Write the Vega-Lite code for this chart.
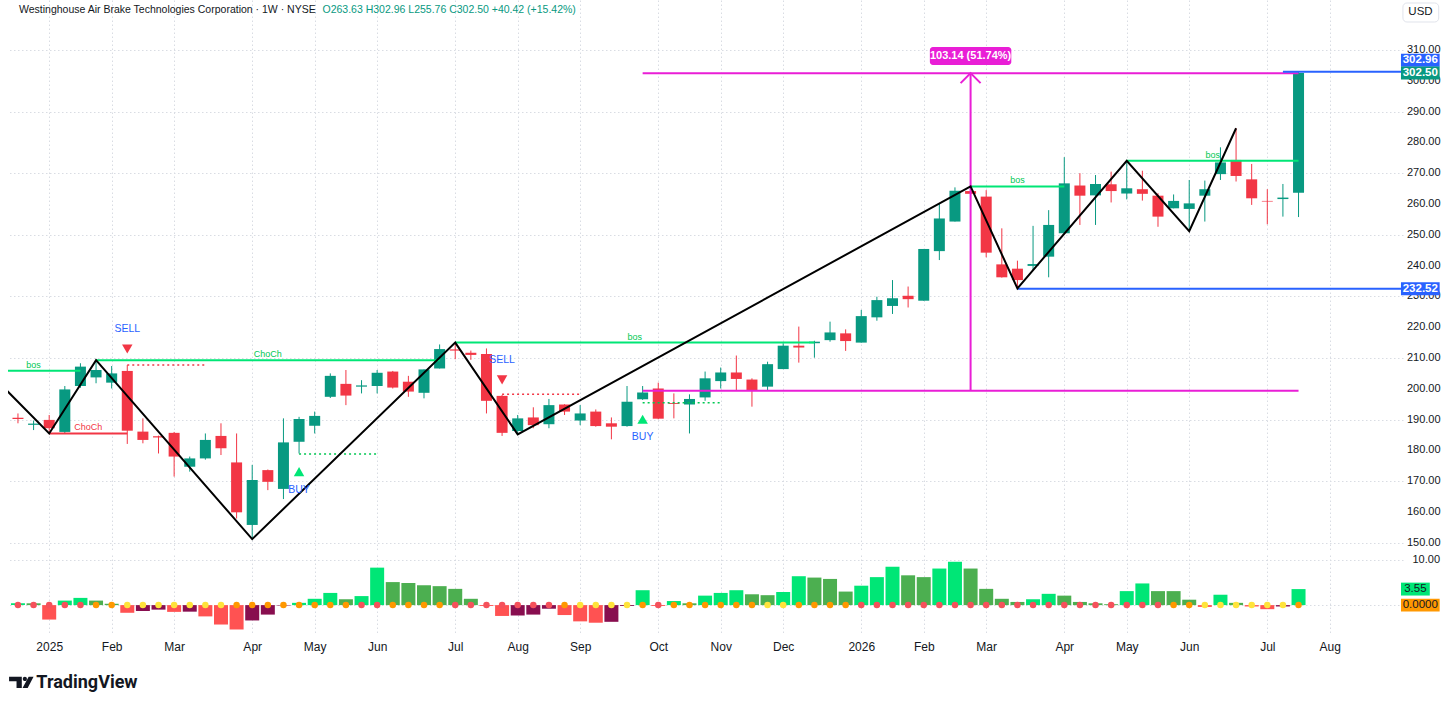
{
"$schema":"https://vega.github.io/schema/vega-lite/v6.json",
"padding":{"left":8,"top":0,"right":0,"bottom":0},
"spacing":2,
"config":{"view":{"stroke":null},"font":"Liberation Sans, sans-serif",
"axis":{"gridColor":"#d9dce3","gridDash":[1.5,2.5],"gridWidth":1,"labelColor":"#131722","labelFontSize":11,"domain":false,"ticks":false,"title":null,"labelOverlap":false}},
"datasets":{
"candles":[
{"d":"2024-12-23","o":190.6,"h":192.0,"l":188.8,"c":190.2},
{"d":"2024-12-30","o":188.3,"h":189.7,"l":186.6,"c":188.7},
{"d":"2025-01-06","o":189.9,"h":191.5,"l":185.5,"c":187.2},
{"d":"2025-01-13","o":186.0,"h":200.9,"l":185.6,"c":199.8},
{"d":"2025-01-20","o":200.9,"h":208.3,"l":200.3,"c":207.2},
{"d":"2025-01-27","o":203.7,"h":209.3,"l":201.8,"c":206.1},
{"d":"2025-02-03","o":202.0,"h":207.4,"l":200.1,"c":205.0},
{"d":"2025-02-10","o":205.8,"h":207.7,"l":182.1,"c":186.4},
{"d":"2025-02-17","o":186.1,"h":190.4,"l":182.3,"c":183.4},
{"d":"2025-02-24","o":184.6,"h":184.8,"l":179.0,"c":184.2},
{"d":"2025-03-03","o":185.7,"h":186.0,"l":171.5,"c":178.0},
{"d":"2025-03-10","o":174.7,"h":178.0,"l":173.1,"c":177.4},
{"d":"2025-03-17","o":177.4,"h":185.5,"l":177.0,"c":183.4},
{"d":"2025-03-24","o":184.7,"h":188.8,"l":178.5,"c":180.7},
{"d":"2025-03-31","o":176.1,"h":185.5,"l":157.9,"c":159.9},
{"d":"2025-04-07","o":155.8,"h":175.3,"l":151.2,"c":170.4},
{"d":"2025-04-14","o":173.6,"h":173.8,"l":167.1,"c":169.8},
{"d":"2025-04-21","o":167.5,"h":190.4,"l":164.2,"c":182.6},
{"d":"2025-04-28","o":182.8,"h":190.9,"l":179.0,"c":190.2},
{"d":"2025-05-05","o":188.0,"h":192.6,"l":185.5,"c":191.2},
{"d":"2025-05-12","o":197.4,"h":205.0,"l":197.0,"c":204.2},
{"d":"2025-05-19","o":201.6,"h":206.1,"l":194.7,"c":197.8},
{"d":"2025-05-26","o":200.7,"h":202.8,"l":198.5,"c":201.1},
{"d":"2025-06-02","o":200.9,"h":206.1,"l":198.5,"c":205.2},
{"d":"2025-06-09","o":205.6,"h":205.8,"l":200.1,"c":200.4},
{"d":"2025-06-16","o":202.3,"h":204.2,"l":197.4,"c":199.1},
{"d":"2025-06-23","o":198.7,"h":206.3,"l":196.9,"c":206.3},
{"d":"2025-06-30","o":206.6,"h":214.4,"l":206.6,"c":212.9},
{"d":"2025-07-07","o":212.8,"h":215.0,"l":209.6,"c":212.4},
{"d":"2025-07-14","o":211.7,"h":212.4,"l":209.4,"c":211.0},
{"d":"2025-07-21","o":211.3,"h":213.1,"l":192.0,"c":196.1},
{"d":"2025-07-28","o":197.7,"h":198.0,"l":184.7,"c":185.7},
{"d":"2025-08-04","o":186.3,"h":191.5,"l":185.2,"c":190.4},
{"d":"2025-08-11","o":190.7,"h":194.0,"l":187.2,"c":188.2},
{"d":"2025-08-18","o":188.5,"h":196.7,"l":187.2,"c":194.7},
{"d":"2025-08-25","o":194.9,"h":195.0,"l":191.5,"c":192.6},
{"d":"2025-09-01","o":189.7,"h":194.7,"l":188.2,"c":192.0},
{"d":"2025-09-08","o":192.6,"h":193.3,"l":187.7,"c":187.9},
{"d":"2025-09-15","o":188.8,"h":190.7,"l":183.6,"c":187.7},
{"d":"2025-09-22","o":187.9,"h":200.9,"l":187.7,"c":195.8},
{"d":"2025-09-29","o":196.6,"h":200.9,"l":196.4,"c":198.8},
{"d":"2025-10-06","o":200.1,"h":202.0,"l":190.1,"c":190.3},
{"d":"2025-10-13","o":195.4,"h":198.5,"l":190.4,"c":195.1},
{"d":"2025-10-20","o":194.9,"h":198.2,"l":185.5,"c":196.7},
{"d":"2025-10-27","o":197.2,"h":205.6,"l":196.1,"c":203.4},
{"d":"2025-11-03","o":202.5,"h":206.9,"l":200.1,"c":205.3},
{"d":"2025-11-10","o":205.3,"h":210.8,"l":199.4,"c":203.2},
{"d":"2025-11-17","o":203.0,"h":203.4,"l":194.2,"c":199.4},
{"d":"2025-11-24","o":200.7,"h":208.8,"l":199.4,"c":208.0},
{"d":"2025-12-01","o":206.4,"h":214.8,"l":206.4,"c":214.0},
{"d":"2025-12-08","o":214.0,"h":220.2,"l":208.5,"c":213.4},
{"d":"2025-12-15","o":214.8,"h":215.6,"l":210.1,"c":215.3},
{"d":"2025-12-22","o":215.8,"h":221.8,"l":215.3,"c":218.3},
{"d":"2025-12-29","o":218.0,"h":219.3,"l":212.3,"c":215.5},
{"d":"2026-01-05","o":215.0,"h":225.6,"l":215.0,"c":223.6},
{"d":"2026-01-12","o":223.2,"h":229.9,"l":222.1,"c":228.8},
{"d":"2026-01-19","o":226.9,"h":235.3,"l":224.3,"c":229.4},
{"d":"2026-01-26","o":230.2,"h":233.2,"l":226.4,"c":229.1},
{"d":"2026-02-02","o":228.6,"h":245.4,"l":228.6,"c":245.4},
{"d":"2026-02-09","o":244.7,"h":260.2,"l":241.8,"c":255.3},
{"d":"2026-02-16","o":254.3,"h":265.4,"l":254.3,"c":264.3},
{"d":"2026-02-23","o":264.2,"h":265.7,"l":259.1,"c":263.3},
{"d":"2026-03-02","o":262.4,"h":264.5,"l":242.7,"c":244.2},
{"d":"2026-03-09","o":240.4,"h":252.1,"l":236.1,"c":236.2},
{"d":"2026-03-16","o":239.0,"h":241.6,"l":232.6,"c":235.3},
{"d":"2026-03-23","o":239.9,"h":252.9,"l":238.6,"c":240.5},
{"d":"2026-03-30","o":242.9,"h":258.0,"l":236.2,"c":253.2},
{"d":"2026-04-06","o":250.5,"h":275.2,"l":250.5,"c":266.7},
{"d":"2026-04-13","o":266.0,"h":270.0,"l":253.2,"c":262.7},
{"d":"2026-04-20","o":262.8,"h":269.4,"l":253.2,"c":266.5},
{"d":"2026-04-27","o":266.4,"h":270.5,"l":260.5,"c":264.2},
{"d":"2026-05-04","o":263.4,"h":274.1,"l":261.5,"c":265.1},
{"d":"2026-05-11","o":264.8,"h":270.8,"l":261.1,"c":263.3},
{"d":"2026-05-18","o":262.7,"h":263.5,"l":252.6,"c":255.9},
{"d":"2026-05-25","o":258.6,"h":263.1,"l":258.6,"c":261.0},
{"d":"2026-06-01","o":258.4,"h":267.8,"l":251.2,"c":260.2},
{"d":"2026-06-08","o":262.7,"h":267.6,"l":254.3,"c":264.8},
{"d":"2026-06-15","o":269.7,"h":278.4,"l":267.8,"c":273.5},
{"d":"2026-06-22","o":274.3,"h":284.6,"l":267.3,"c":269.1},
{"d":"2026-06-29","o":268.0,"h":273.0,"l":259.7,"c":261.85},
{"d":"2026-07-06","o":261.0,"h":264.8,"l":253.4,"c":260.8},
{"d":"2026-07-13","o":261.6,"h":266.5,"l":255.9,"c":262.08},
{"d":"2026-07-20","o":263.63,"h":302.96,"l":255.76,"c":302.5}
],
"osc":[
{"d":"2024-12-23","v":0.4,"phase":"up_rising","sqz":"high"},
{"d":"2024-12-30","v":0.4,"phase":"up_falling","sqz":"high"},
{"d":"2025-01-06","v":-3.2,"phase":"down_falling","sqz":"high"},
{"d":"2025-01-13","v":1.0,"phase":"up_rising","sqz":"high"},
{"d":"2025-01-20","v":1.6,"phase":"up_rising","sqz":"high"},
{"d":"2025-01-27","v":1.0,"phase":"up_falling","sqz":"mid"},
{"d":"2025-02-03","v":0.3,"phase":"up_falling","sqz":"mid"},
{"d":"2025-02-10","v":-1.7,"phase":"down_falling","sqz":"low"},
{"d":"2025-02-17","v":-1.3,"phase":"down_rising","sqz":"low"},
{"d":"2025-02-24","v":-1.0,"phase":"down_rising","sqz":"low"},
{"d":"2025-03-03","v":-1.5,"phase":"down_falling","sqz":"low"},
{"d":"2025-03-10","v":-1.45,"phase":"down_rising","sqz":"low"},
{"d":"2025-03-17","v":-2.5,"phase":"down_falling","sqz":"low"},
{"d":"2025-03-24","v":-4.3,"phase":"down_falling","sqz":"low"},
{"d":"2025-03-31","v":-5.4,"phase":"down_falling","sqz":"mid"},
{"d":"2025-04-07","v":-3.4,"phase":"down_rising","sqz":"mid"},
{"d":"2025-04-14","v":-2.1,"phase":"down_rising","sqz":"mid"},
{"d":"2025-04-21","v":-0.1,"phase":"down_rising","sqz":"mid"},
{"d":"2025-04-28","v":0.5,"phase":"up_rising","sqz":"mid"},
{"d":"2025-05-05","v":1.4,"phase":"up_rising","sqz":"mid"},
{"d":"2025-05-12","v":2.7,"phase":"up_rising","sqz":"mid"},
{"d":"2025-05-19","v":1.3,"phase":"up_falling","sqz":"mid"},
{"d":"2025-05-26","v":2.0,"phase":"up_rising","sqz":"high"},
{"d":"2025-06-02","v":8.3,"phase":"up_rising","sqz":"high"},
{"d":"2025-06-09","v":5.1,"phase":"up_falling","sqz":"mid"},
{"d":"2025-06-16","v":4.9,"phase":"up_falling","sqz":"mid"},
{"d":"2025-06-23","v":4.4,"phase":"up_falling","sqz":"mid"},
{"d":"2025-06-30","v":4.2,"phase":"up_falling","sqz":"mid"},
{"d":"2025-07-07","v":3.6,"phase":"up_falling","sqz":"high"},
{"d":"2025-07-14","v":1.4,"phase":"up_falling","sqz":"high"},
{"d":"2025-07-21","v":-0.2,"phase":"down_falling","sqz":"high"},
{"d":"2025-07-28","v":-2.4,"phase":"down_falling","sqz":"high"},
{"d":"2025-08-04","v":-2.3,"phase":"down_rising","sqz":"high"},
{"d":"2025-08-11","v":-2.1,"phase":"down_rising","sqz":"high"},
{"d":"2025-08-18","v":-0.8,"phase":"down_rising","sqz":"high"},
{"d":"2025-08-25","v":-2.2,"phase":"down_falling","sqz":"mid"},
{"d":"2025-09-01","v":-3.6,"phase":"down_falling","sqz":"low"},
{"d":"2025-09-08","v":-3.9,"phase":"down_falling","sqz":"low"},
{"d":"2025-09-15","v":-3.7,"phase":"down_rising","sqz":"low"},
{"d":"2025-09-22","v":-0.2,"phase":"down_rising","sqz":"low"},
{"d":"2025-09-29","v":3.3,"phase":"up_rising","sqz":"mid"},
{"d":"2025-10-06","v":-0.2,"phase":"down_falling","sqz":"high"},
{"d":"2025-10-13","v":0.9,"phase":"up_rising","sqz":"mid"},
{"d":"2025-10-20","v":0.4,"phase":"up_falling","sqz":"mid"},
{"d":"2025-10-27","v":2.1,"phase":"up_rising","sqz":"mid"},
{"d":"2025-11-03","v":2.7,"phase":"up_rising","sqz":"mid"},
{"d":"2025-11-10","v":3.3,"phase":"up_rising","sqz":"mid"},
{"d":"2025-11-17","v":2.4,"phase":"up_falling","sqz":"mid"},
{"d":"2025-11-24","v":2.2,"phase":"up_falling","sqz":"low"},
{"d":"2025-12-01","v":2.9,"phase":"up_rising","sqz":"low"},
{"d":"2025-12-08","v":6.4,"phase":"up_rising","sqz":"mid"},
{"d":"2025-12-15","v":6.1,"phase":"up_falling","sqz":"mid"},
{"d":"2025-12-22","v":5.8,"phase":"up_falling","sqz":"mid"},
{"d":"2025-12-29","v":3.0,"phase":"up_falling","sqz":"mid"},
{"d":"2026-01-05","v":4.3,"phase":"up_rising","sqz":"high"},
{"d":"2026-01-12","v":6.2,"phase":"up_rising","sqz":"high"},
{"d":"2026-01-19","v":8.5,"phase":"up_rising","sqz":"high"},
{"d":"2026-01-26","v":6.6,"phase":"up_falling","sqz":"high"},
{"d":"2026-02-02","v":6.2,"phase":"up_falling","sqz":"high"},
{"d":"2026-02-09","v":8.1,"phase":"up_rising","sqz":"high"},
{"d":"2026-02-16","v":9.6,"phase":"up_rising","sqz":"high"},
{"d":"2026-02-23","v":8.1,"phase":"up_falling","sqz":"high"},
{"d":"2026-03-02","v":3.6,"phase":"up_falling","sqz":"high"},
{"d":"2026-03-09","v":1.4,"phase":"up_falling","sqz":"high"},
{"d":"2026-03-16","v":0.7,"phase":"up_falling","sqz":"high"},
{"d":"2026-03-23","v":1.3,"phase":"up_rising","sqz":"high"},
{"d":"2026-03-30","v":2.5,"phase":"up_rising","sqz":"high"},
{"d":"2026-04-06","v":2.1,"phase":"up_falling","sqz":"high"},
{"d":"2026-04-13","v":0.7,"phase":"up_falling","sqz":"high"},
{"d":"2026-04-20","v":0.4,"phase":"up_falling","sqz":"high"},
{"d":"2026-04-27","v":0.2,"phase":"up_falling","sqz":"high"},
{"d":"2026-05-04","v":3.1,"phase":"up_rising","sqz":"high"},
{"d":"2026-05-11","v":4.8,"phase":"up_rising","sqz":"high"},
{"d":"2026-05-18","v":3.1,"phase":"up_falling","sqz":"high"},
{"d":"2026-05-25","v":3.1,"phase":"up_falling","sqz":"mid"},
{"d":"2026-06-01","v":1.2,"phase":"up_falling","sqz":"mid"},
{"d":"2026-06-08","v":-0.4,"phase":"down_falling","sqz":"low"},
{"d":"2026-06-15","v":2.3,"phase":"up_rising","sqz":"low"},
{"d":"2026-06-22","v":0.5,"phase":"up_falling","sqz":"low"},
{"d":"2026-06-29","v":-0.3,"phase":"down_falling","sqz":"low"},
{"d":"2026-07-06","v":-0.9,"phase":"down_falling","sqz":"low"},
{"d":"2026-07-13","v":-0.3,"phase":"down_rising","sqz":"low"},
{"d":"2026-07-20","v":3.55,"phase":"up_rising","sqz":"mid"}
],
"zigzag":[
{"d":"2024-12-16","p":200.9},{"d":"2025-01-06","p":185.5},{"d":"2025-01-27","p":209.3},{"d":"2025-04-07","p":151.2},
{"d":"2025-07-07","p":215.0},{"d":"2025-08-04","p":185.2},{"d":"2026-02-23","p":265.7},{"d":"2026-03-16","p":232.6},
{"d":"2026-05-04","p":274.0},{"d":"2026-06-01","p":251.2},{"d":"2026-06-22","p":284.6}
],
"structure":[
{"d1":"2024-12-09","d2":"2025-01-20","p":205.9,"side":"bull","tag":"bos"},
{"d1":"2025-01-06","d2":"2025-02-10","p":185.5,"side":"bear","tag":"ChoCh"},
{"d1":"2025-01-27","d2":"2025-06-30","p":209.3,"side":"bull","tag":"ChoCh"},
{"d1":"2025-07-07","d2":"2025-12-15","p":215.0,"side":"bull","tag":"bos"},
{"d1":"2026-02-23","d2":"2026-04-06","p":265.7,"side":"bull","tag":"bos"},
{"d1":"2026-05-04","d2":"2026-07-20","p":274.0,"side":"bull","tag":"bos"}
],
"stops":[
{"d1":"2025-02-10","d2":"2025-03-17","p":207.7,"side":"bear"},
{"d1":"2025-04-28","d2":"2025-06-02","p":178.8,"side":"bull"},
{"d1":"2025-07-28","d2":"2025-09-01","p":198.2,"side":"bear"},
{"d1":"2025-09-29","d2":"2025-11-03","p":195.5,"side":"bull"}
],
"signals":[
{"d":"2025-02-10","signal":"SELL","p":212.9},
{"d":"2025-04-28","signal":"BUY","p":173.1},
{"d":"2025-07-28","signal":"SELL","p":202.9},
{"d":"2025-09-29","signal":"BUY","p":190.1}
],
"range":[{"d1":"2025-09-29","d2":"2026-07-20","dv":"2026-02-23","lo":199.34,"hi":302.48,"text":"103.14 (51.74%)"}],
"levels":[{"d1":"2026-07-13","p":302.96},{"d1":"2026-03-16","p":232.52}],
"ticks":[{"p":150},{"p":160},{"p":170},{"p":180},{"p":190},{"p":200},{"p":210},{"p":220},{"p":230},{"p":240},{"p":250},{"p":260},{"p":270},{"p":280},{"p":290},{"p":300},{"p":310}],
"tags":[{"label":"302.96","price":302.96,"series":"high"},{"label":"302.50","price":302.5,"series":"close"},{"label":"232.52","price":232.52,"series":"level"}],
"otags":[{"label":"3.55","value":3.55,"series":"momentum"},{"label":"0.0000","value":0,"series":"zero"}],
"one":[{}]
},
"vconcat":[
{"width":1395,"height":551,
"layer":[
{"data":{"name":"candles"},"mark":{"type":"rule","strokeWidth":1},
"encoding":{
"x":{"field":"d","type":"temporal","title":null,
"scale":{"type":"utc","domain":[{"year":2024,"month":12,"date":20,"hours":18,"minutes":36,"utc":true},{"year":2026,"month":9,"date":2,"hours":14,"utc":true}]},
"axis":{"values":[{"year":2025,"month":1,"date":6,"utc":true},{"year":2025,"month":2,"date":3,"utc":true},{"year":2025,"month":3,"date":3,"utc":true},{"year":2025,"month":4,"date":7,"utc":true},{"year":2025,"month":5,"date":5,"utc":true},{"year":2025,"month":6,"date":2,"utc":true},{"year":2025,"month":7,"date":7,"utc":true},{"year":2025,"month":8,"date":4,"utc":true},{"year":2025,"month":9,"date":1,"utc":true},{"year":2025,"month":10,"date":6,"utc":true},{"year":2025,"month":11,"date":3,"utc":true},{"year":2025,"month":12,"date":1,"utc":true},{"year":2026,"month":1,"date":5,"utc":true},{"year":2026,"month":2,"date":2,"utc":true},{"year":2026,"month":3,"date":2,"utc":true},{"year":2026,"month":4,"date":6,"utc":true},{"year":2026,"month":5,"date":4,"utc":true},{"year":2026,"month":6,"date":1,"utc":true},{"year":2026,"month":7,"date":6,"utc":true},{"year":2026,"month":8,"date":3,"utc":true}],
"labels":false,"grid":true}},
"y":{"field":"l","type":"quantitative","title":null,"scale":{"domain":[147.34,326.23],"zero":false,"nice":false},
"axis":{"orient":"right","values":[150,160,170,180,190,200,210,220,230,240,250,260,270,280,290,300,310,320],"labels":false,"grid":true}},
"y2":{"field":"h"},
"color":{"condition":{"test":"datum.c >= datum.o","value":"#089981"},"value":"#f23645"}}},
{"data":{"name":"candles"},"mark":{"type":"bar","size":11},
"encoding":{"x":{"field":"d","type":"temporal"},"y":{"field":"o","type":"quantitative"},"y2":{"field":"c"},
"color":{"condition":{"test":"datum.c >= datum.o","value":"#089981"},"value":"#f23645"}}},
{"data":{"name":"structure"},"mark":{"type":"rule","strokeWidth":2,"clip":true},
"encoding":{"x":{"field":"d1","type":"temporal"},"x2":{"field":"d2"},"y":{"field":"p","type":"quantitative"},
"color":{"condition":{"test":"datum.side == 'bull'","value":"#00e676"},"value":"#f23645"}}},
{"data":{"name":"structure"},"transform":[{"calculate":"(time(toDate(datum.d1)) + time(toDate(datum.d2))) / 2","as":"dm"}],
"mark":{"type":"text","fontSize":9,"baseline":"bottom","dy":-1},
"encoding":{"x":{"field":"dm","type":"temporal"},"y":{"field":"p","type":"quantitative"},"text":{"field":"tag"},
"color":{"condition":{"test":"datum.side == 'bull'","value":"#00c853"},"value":"#f23645"}}},
{"data":{"name":"stops"},"mark":{"type":"rule","strokeWidth":1.5,"strokeDash":[2,3]},
"encoding":{"x":{"field":"d1","type":"temporal"},"x2":{"field":"d2"},"y":{"field":"p","type":"quantitative"},
"color":{"condition":{"test":"datum.side == 'bull'","value":"#00c853"},"value":"#f23645"}}},
{"data":{"name":"range"},"mark":{"type":"rule","strokeWidth":2,"color":"#e91ed6"},
"encoding":{"x":{"field":"d1","type":"temporal"},"x2":{"field":"d2"},"y":{"field":"lo","type":"quantitative"}}},
{"data":{"name":"range"},"mark":{"type":"rule","strokeWidth":2,"color":"#e91ed6"},
"encoding":{"x":{"field":"d1","type":"temporal"},"x2":{"field":"d2"},"y":{"field":"hi","type":"quantitative"}}},
{"data":{"name":"range"},"mark":{"type":"rule","strokeWidth":2,"color":"#e91ed6"},
"encoding":{"x":{"field":"dv","type":"temporal"},"y":{"field":"lo","type":"quantitative"},"y2":{"field":"hi"}}},
{"data":{"name":"range"},"mark":{"type":"point","shape":"M -1 1 L 0 0 L 1 1","size":400,"filled":false,"strokeWidth":2,"color":"#e91ed6","opacity":1},
"encoding":{"x":{"field":"dv","type":"temporal"},"y":{"field":"hi","type":"quantitative"}}},
{"data":{"name":"range"},"transform":[
{"calculate":"time(toDate(datum.dv)) - 18.25*864e5","as":"bx1"},{"calculate":"time(toDate(datum.dv)) + 18.25*864e5","as":"bx2"},
{"calculate":"datum.hi + 2.65","as":"by1"},{"calculate":"datum.hi + 8.5","as":"by2"}],
"mark":{"type":"rect","color":"#e91ed6","cornerRadius":3},
"encoding":{"x":{"field":"bx1","type":"temporal"},"x2":{"field":"bx2"},"y":{"field":"by1","type":"quantitative"},"y2":{"field":"by2"}}},
{"data":{"name":"range"},"transform":[{"calculate":"datum.hi + 5.6","as":"ty"}],
"mark":{"type":"text","color":"#ffffff","fontSize":11,"fontWeight":"bold","baseline":"middle"},
"encoding":{"x":{"field":"dv","type":"temporal"},"y":{"field":"ty","type":"quantitative"},"text":{"field":"text"}}},
{"data":{"name":"levels"},"mark":{"type":"rule","strokeWidth":2,"color":"#2962ff","clip":true},
"encoding":{"x":{"field":"d1","type":"temporal"},"x2":{"datum":{"year":2026,"month":9,"date":20,"utc":true}},"y":{"field":"p","type":"quantitative"}}},
{"data":{"name":"zigzag"},"mark":{"type":"line","color":"#000000","strokeWidth":2,"clip":true},
"encoding":{"x":{"field":"d","type":"temporal"},"y":{"field":"p","type":"quantitative"}}},
{"data":{"name":"signals"},"mark":{"type":"point","filled":true,"size":110,"opacity":1},
"encoding":{"x":{"field":"d","type":"temporal"},"y":{"field":"p","type":"quantitative"},
"shape":{"field":"signal","type":"nominal","scale":{"domain":["SELL","BUY"],"range":["triangle-down","triangle-up"]},"legend":null},
"color":{"condition":{"test":"datum.signal == 'SELL'","value":"#f23645"},"value":"#00e676"}}},
{"data":{"name":"signals"},"transform":[{"filter":"datum.signal == 'SELL'"}],
"mark":{"type":"text","fontSize":10.5,"color":"#2962ff","dy":-20,"baseline":"middle"},
"encoding":{"x":{"field":"d","type":"temporal"},"y":{"field":"p","type":"quantitative"},"text":{"field":"signal"}}},
{"data":{"name":"signals"},"transform":[{"filter":"datum.signal == 'BUY'"}],
"mark":{"type":"text","fontSize":10.5,"color":"#2962ff","dy":18,"baseline":"middle"},
"encoding":{"x":{"field":"d","type":"temporal"},"y":{"field":"p","type":"quantitative"},"text":{"field":"signal"}}},
{"data":{"name":"one"},"mark":{"type":"text","align":"left","baseline":"middle","fontSize":10.5,"color":"#131722"},
"encoding":{"x":{"datum":{"year":2024,"month":12,"date":23,"hours":11,"utc":true},"type":"temporal"},"y":{"datum":322.98,"type":"quantitative"},
"text":{"value":"Westinghouse Air Brake Technologies Corporation · 1W · NYSE"}}},
{"data":{"name":"one"},"mark":{"type":"text","align":"left","baseline":"middle","fontSize":10.5,"color":"#089981"},
"encoding":{"x":{"datum":{"year":2025,"month":5,"date":8,"hours":12,"utc":true},"type":"temporal"},"y":{"datum":322.98,"type":"quantitative"},
"text":{"value":"O263.63  H302.96  L255.76  C302.50  +40.42 (+15.42%)"}}},
{"data":{"name":"ticks"},"mark":{"type":"text","align":"left","baseline":"middle","fontSize":11,"color":"#131722"},
"encoding":{"x":{"datum":{"year":2026,"month":9,"date":6,"hours":14,"utc":true},"type":"temporal"},"y":{"field":"p","type":"quantitative"},"text":{"field":"p","type":"quantitative","format":".2f"}}},
{"data":{"name":"one"},"mark":{"type":"rect","fill":"#ffffff","stroke":"#e0e3eb","strokeWidth":1,"cornerRadius":4},
"encoding":{"x":{"datum":{"year":2026,"month":9,"date":4,"hours":19,"utc":true},"type":"temporal"},"x2":{"datum":{"year":2026,"month":9,"date":20,"hours":20,"utc":true}},
"y":{"datum":325.26,"type":"quantitative"},"y2":{"datum":319.09}}},
{"data":{"name":"one"},"mark":{"type":"text","align":"center","baseline":"middle","fontSize":11.5,"color":"#131722"},
"encoding":{"x":{"datum":{"year":2026,"month":9,"date":12,"hours":16,"utc":true},"type":"temporal"},"y":{"datum":322.2,"type":"quantitative"},"text":{"value":"USD"}}},
{"data":{"name":"tags"},"transform":[{"calculate":"datum.price + (datum.series == 'high' ? 3.7 : 0)","as":"yc"},{"calculate":"datum.yc - 2.11","as":"y1"},{"calculate":"datum.yc + 2.11","as":"y2"}],
"mark":{"type":"rect"},
"encoding":{"x":{"datum":{"year":2026,"month":9,"date":3,"hours":22,"utc":true},"type":"temporal"},"x2":{"datum":{"year":2026,"month":9,"date":21,"hours":6,"utc":true}},
"y":{"field":"y1","type":"quantitative"},"y2":{"field":"y2"},
"color":{"condition":{"test":"datum.series == 'close'","value":"#089981"},"value":"#2962ff"}}},
{"data":{"name":"tags"},"transform":[{"calculate":"datum.price + (datum.series == 'high' ? 3.7 : 0)","as":"yc"}],
"mark":{"type":"text","align":"center","baseline":"middle","fontSize":11.5,"fontWeight":"bold","color":"#ffffff"},
"encoding":{"x":{"datum":{"year":2026,"month":9,"date":12,"hours":14,"utc":true},"type":"temporal"},"y":{"field":"yc","type":"quantitative"},"text":{"field":"label"}}}
]},
{"width":1395,"height":80,
"resolve":{"scale":{"color":"independent"}},
"layer":[
{"data":{"name":"osc"},"mark":{"type":"bar","size":14},
"encoding":{
"x":{"field":"d","type":"temporal","title":null,
"scale":{"type":"utc","domain":[{"year":2024,"month":12,"date":20,"hours":18,"minutes":36,"utc":true},{"year":2026,"month":9,"date":2,"hours":14,"utc":true}]},
"axis":{"values":[{"year":2025,"month":1,"date":6,"utc":true},{"year":2025,"month":2,"date":3,"utc":true},{"year":2025,"month":3,"date":3,"utc":true},{"year":2025,"month":4,"date":7,"utc":true},{"year":2025,"month":5,"date":5,"utc":true},{"year":2025,"month":6,"date":2,"utc":true},{"year":2025,"month":7,"date":7,"utc":true},{"year":2025,"month":8,"date":4,"utc":true},{"year":2025,"month":9,"date":1,"utc":true},{"year":2025,"month":10,"date":6,"utc":true},{"year":2025,"month":11,"date":3,"utc":true},{"year":2025,"month":12,"date":1,"utc":true},{"year":2026,"month":1,"date":5,"utc":true},{"year":2026,"month":2,"date":2,"utc":true},{"year":2026,"month":3,"date":2,"utc":true},{"year":2026,"month":4,"date":6,"utc":true},{"year":2026,"month":5,"date":4,"utc":true},{"year":2026,"month":6,"date":1,"utc":true},{"year":2026,"month":7,"date":6,"utc":true},{"year":2026,"month":8,"date":3,"utc":true}],
"labelExpr":"utcFormat(datum.value, '%m') == '01' ? utcFormat(datum.value, '%Y') : utcFormat(datum.value, '%b')",
"labelFontSize":12,"labelPadding":6,"labelFlush":false,"labelOverlap":false,"grid":true}},
"y":{"field":"v","type":"quantitative","title":null,"stack":null,"scale":{"domain":[-6.62,11.1],"zero":false,"nice":false},
"axis":{"orient":"right","values":[0,10],"labelExpr":"datum.value == 10 ? '10.00' : ''","grid":true,"labelPadding":9,"labelOverlap":false}},
"color":{"field":"phase","type":"nominal","scale":{"domain":["up_rising","up_falling","down_falling","down_rising"],"range":["#00e676","#4caf50","#ff5252","#880e4f"]},"legend":null}}},
{"data":{"name":"osc"},"mark":{"type":"point","filled":true,"size":42,"opacity":1},
"encoding":{"x":{"field":"d","type":"temporal"},"y":{"datum":0,"type":"quantitative"},
"color":{"field":"sqz","type":"nominal","scale":{"domain":["high","mid","low"],"range":["#f5515b","#ff9800","#ffe33b"]},"legend":null}}},
{"data":{"name":"otags"},"transform":[{"calculate":"datum.value - 1.43","as":"y1"},{"calculate":"datum.value + 1.43","as":"y2"},
{"calculate":"datum.series == 'momentum' ? utc(2026,8,16,20) : utc(2026,8,21,6)","as":"xe"},{"calculate":"utc(2026,8,3,22)","as":"xs"}],
"mark":{"type":"rect"},
"encoding":{"x":{"field":"xs","type":"temporal"},"x2":{"field":"xe"},"y":{"field":"y1","type":"quantitative"},"y2":{"field":"y2"},
"fill":{"condition":{"test":"datum.series == 'momentum'","value":"#00e676"},"value":"#ff9800"}}},
{"data":{"name":"otags"},"transform":[{"calculate":"datum.series == 'momentum' ? utc(2026,8,10,9) : utc(2026,8,12,14)","as":"xc"}],
"mark":{"type":"text","align":"center","baseline":"middle","fontSize":11.5,"color":"#131722"},
"encoding":{"x":{"field":"xc","type":"temporal"},"y":{"field":"value","type":"quantitative"},"text":{"field":"label"}}},
{"data":{"name":"one"},"mark":{"type":"point","filled":true,"opacity":1,"size":600,"color":"#131722","strokeWidth":0,
"shape":"M -1 -0.46 L 0.04 -0.46 L 0.04 0.46 L -0.39 0.46 L -0.39 -0.09 L -1 -0.09 Z M 0.6 -0.46 L 1 -0.46 L 0.52 0.46 L 0.1 0.46 Z M 0.12 -0.28 A 0.17 0.17 0 1 0 0.46 -0.28 A 0.17 0.17 0 1 0 0.12 -0.28 Z"},
"encoding":{"x":{"datum":{"year":2024,"month":12,"date":24,"hours":12,"utc":true},"type":"temporal"},"y":{"datum":-17.1,"type":"quantitative"}}},
{"data":{"name":"one"},"mark":{"type":"text","align":"left","baseline":"middle","fontSize":18,"fontWeight":"bold","font":"Roboto","color":"#131722"},
"encoding":{"x":{"datum":{"year":2024,"month":12,"date":31,"hours":6,"utc":true},"type":"temporal"},"y":{"datum":-17.2,"type":"quantitative"},"text":{"value":"TradingView"}}}
]}
]
}
